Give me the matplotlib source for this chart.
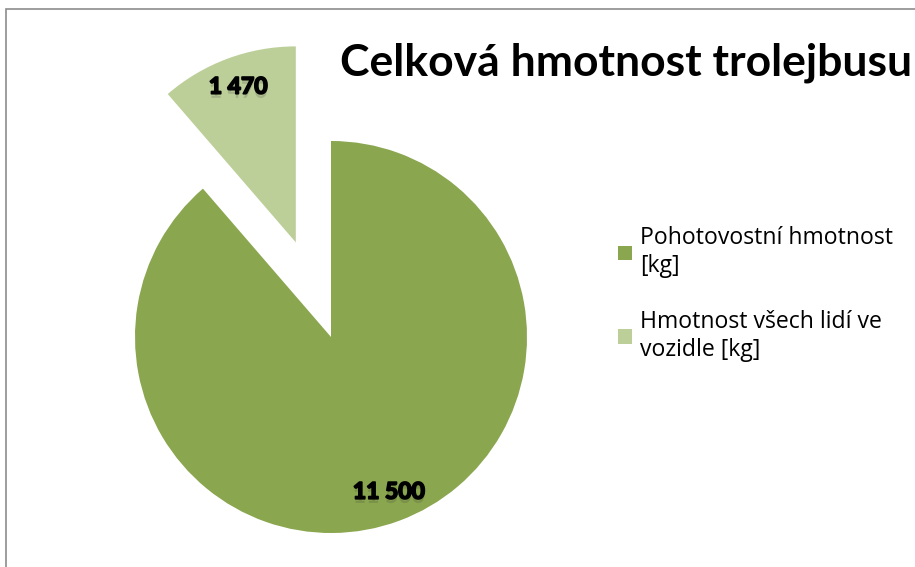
import matplotlib
matplotlib.use("Agg")
import matplotlib.pyplot as plt
import matplotlib.patheffects as pe
from matplotlib.patches import Rectangle

categories = ["Pohotovostní hmotnost\n[kg]", "Hmotnost všech lidí ve\nvozidle [kg]"]
values = [11500, 1470]
colors = ["#8AA64F", "#BCCF99"]
explode = [0.0, 0.515]
title = "Celková hmotnost trolejbusu"

W, H = 915, 567
fig = plt.figure(figsize=(W / 100, H / 100), dpi=100)
fig.patch.set_facecolor("white")

# chart border (clipped at right/bottom)
fig.patches.append(Rectangle((6 / W, -0.1), 1.2, (H - 9) / H + 0.1, transform=fig.transFigure,
                             fill=False, edgecolor="#8C8C8C", linewidth=1.2))

R = 196.0
cx, cy = 331.0, H - 337.0
axw = 600.0
ax = fig.add_axes([0, 0, axw / W, 1])
total = sum(values)

def fmt(p):
    v = int(round(p * total / 100.0))
    return f"{v:,}".replace(",", " ")

wedges, texts, autotexts = ax.pie(values, colors=colors, explode=explode, startangle=90,
                                  counterclock=False, autopct=fmt, pctdistance=0.845,
                                  wedgeprops=dict(linewidth=0),
                                  textprops=dict(fontsize=16.5, fontweight="bold", color="black",
                                                 family=["Lato", "DejaVu Sans"]))
for t in autotexts:
    t.set_path_effects([pe.SimplePatchShadow(offset=(0, -3), shadow_rgbFace="#333333", alpha=0.18),
                        pe.withStroke(linewidth=1.3, foreground="black")])
ax.set_aspect("auto")
ax.set_xlim(-cx / R, (axw - cx) / R)
ax.set_ylim(-cy / R, (H - cy) / R)
ax.axis("off")

fig.text(626 / W, 1 - 63 / H, title, ha="center", va="center", fontsize=32, fontweight="bold",
         family=["Lato", "DejaVu Sans"], color="black")

leg = fig.legend(wedges, categories, loc="upper left", bbox_to_anchor=(609 / W, 1 - 217 / H),
                 frameon=False, handlelength=0.6, handleheight=0.6,
                 handletextpad=0.33, labelspacing=1.4, borderaxespad=0,
                 prop=dict(family=["Open Sans", "DejaVu Sans"], size=16.6))

fig.savefig("out.png", dpi=100, facecolor="white")
